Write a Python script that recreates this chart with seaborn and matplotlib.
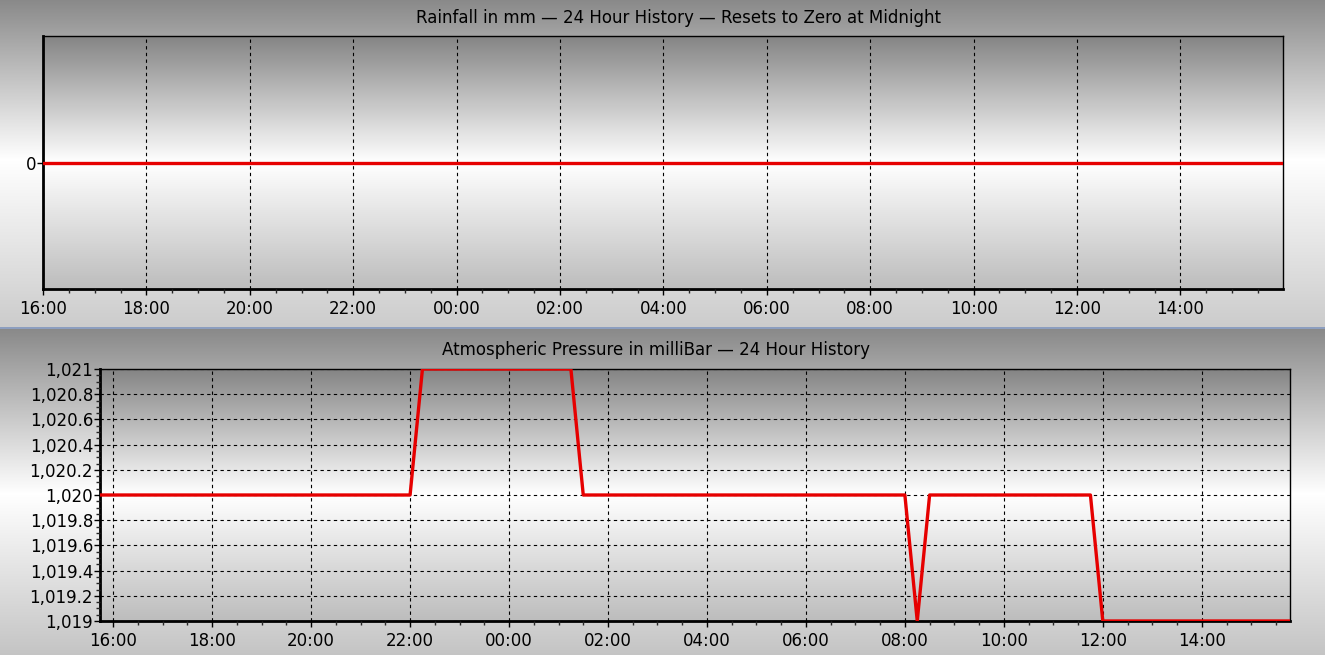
import numpy as np
import pandas as pd
import matplotlib
matplotlib.use("Agg")
import matplotlib.pyplot as plt
import matplotlib.dates as mdates
from matplotlib.ticker import FuncFormatter, MultipleLocator, FixedLocator
import seaborn as sns

# rainfall: flat zero over the whole day
rain_times = ["2024-01-01 16:00", "2024-01-02 15:59"]
rain_mm = [0, 0]

# pressure breakpoints (15 min samples, only where the value changes)
press_times = ["2024-01-01 15:44", "2024-01-01 22:00", "2024-01-01 22:15",
               "2024-01-02 01:15", "2024-01-02 01:30", "2024-01-02 08:00",
               "2024-01-02 08:15", "2024-01-02 08:30", "2024-01-02 11:45",
               "2024-01-02 12:00", "2024-01-02 15:47"]
press_mb = [1020, 1020, 1021, 1021, 1020, 1020, 1019, 1020, 1020, 1019, 1019]

rain_title = "Rainfall in mm \u2014 24 Hour History \u2014 Resets to Zero at Midnight"
press_title = "Atmospheric Pressure in milliBar \u2014 24 Hour History"

rain = pd.DataFrame({"time": pd.to_datetime(rain_times), "mm": rain_mm})
press = pd.DataFrame({"time": pd.to_datetime(press_times), "mb": press_mb})

sns.set_style("ticks")
plt.rcParams["font.family"] = ["DejaVu Sans"]
plt.rcParams["text.color"] = "black"

W, H = 1325, 655
fig = plt.figure(figsize=(W / 100, H / 100), dpi=100)


def px_axes(l, t, r, b, **kw):
    return fig.add_axes([l / W, 1 - b / H, (r - l) / W, (b - t) / H], **kw)


def grad(n_top, n_mid, top, mid, bot):
    a = np.linspace(top, mid, n_top)
    b = np.linspace(mid, bot, n_mid)
    return np.concatenate([a, b])


# window background: two panels with vertical grey gradients
bg = px_axes(0, 0, W, H)
bg.set_axis_off()
col = np.concatenate([
    grad(160, 167, 0.54, 1.0, 0.80),
    np.full(2, 0.56),
    grad(165, 161, 0.54, 1.0, 0.77),
])
col_rgb = np.stack([col, col, col], axis=1)
col_rgb[327:329] = [0.55, 0.62, 0.75]
bg.imshow(col_rgb[:, None, :], aspect="auto", extent=[0, 1, 0, 1], zorder=0)
bg.set_xlim(0, 1)
bg.set_ylim(0, 1)


def plot_bg(ax):
    g = grad(128, 128, 0.52, 1.0, 0.74)
    ax.imshow(np.stack([g, g, g], axis=1)[:, None, :], aspect="auto",
              extent=[0, 1, 0, 1], transform=ax.transAxes, zorder=0)


def style_time_axis(ax):
    ax.xaxis.set_major_locator(mdates.HourLocator(byhour=range(0, 24, 2)))
    ax.xaxis.set_minor_locator(mdates.MinuteLocator(byminute=[0, 30]))
    ax.xaxis.set_major_formatter(mdates.DateFormatter("%H:%M"))
    ax.tick_params(axis="both", which="major", length=4, width=1,
                   labelsize=12, colors="black", pad=4)
    ax.tick_params(axis="y", which="major", pad=1)
    ax.tick_params(axis="both", which="minor", length=3, width=1)
    for s in ["left", "bottom"]:
        ax.spines[s].set_linewidth(2)
    for s in ["top", "right"]:
        ax.spines[s].set_linewidth(1)
    for s in ax.spines.values():
        s.set_color("black")
        s.set_visible(True)
    ax.set_xlabel("")
    ax.set_ylabel("")


grid_kw = dict(color="black", linestyle=(0, (3, 3)), linewidth=0.8)

# rainfall panel
ax1 = px_axes(43, 36, 1283, 289)
plot_bg(ax1)
sns.lineplot(data=rain, x="time", y="mm", ax=ax1, color="#e60000",
             linewidth=2.4, zorder=3)
ax1.set_xlim(rain["time"].iloc[0], rain["time"].iloc[-1])
ax1.set_ylim(-1, 1)
ax1.yaxis.set_major_locator(FixedLocator([0]))
ax1.yaxis.set_major_formatter(FuncFormatter(lambda v, p: f"{v:g}"))
style_time_axis(ax1)
ax1.xaxis.grid(True, which="major", **grid_kw)
ax1.set_axisbelow(False)

# pressure panel
ax2 = px_axes(100, 369, 1290, 621)
plot_bg(ax2)
sns.lineplot(data=press, x="time", y="mb", ax=ax2, color="#e60000",
             linewidth=2.4, zorder=3)
ax2.set_xlim(press["time"].iloc[0], press["time"].iloc[-1])
ax2.set_ylim(1019, 1021)
ax2.yaxis.set_major_locator(MultipleLocator(0.2))
ax2.yaxis.set_minor_locator(MultipleLocator(0.05))


def mb_fmt(v, p):
    s = f"{v:,.1f}"
    return s[:-2] if s.endswith(".0") else s


ax2.yaxis.set_major_formatter(FuncFormatter(mb_fmt))
style_time_axis(ax2)
ax2.grid(True, which="major", **grid_kw)
ax2.set_axisbelow(False)

fig.text(679 / W, 1 - 18 / H, rain_title, ha="center", va="center",
         fontsize=12, color="black")
fig.text(656 / W, 1 - 350 / H, press_title, ha="center", va="center",
         fontsize=12, color="black")

fig.savefig("out.png", dpi=100)
